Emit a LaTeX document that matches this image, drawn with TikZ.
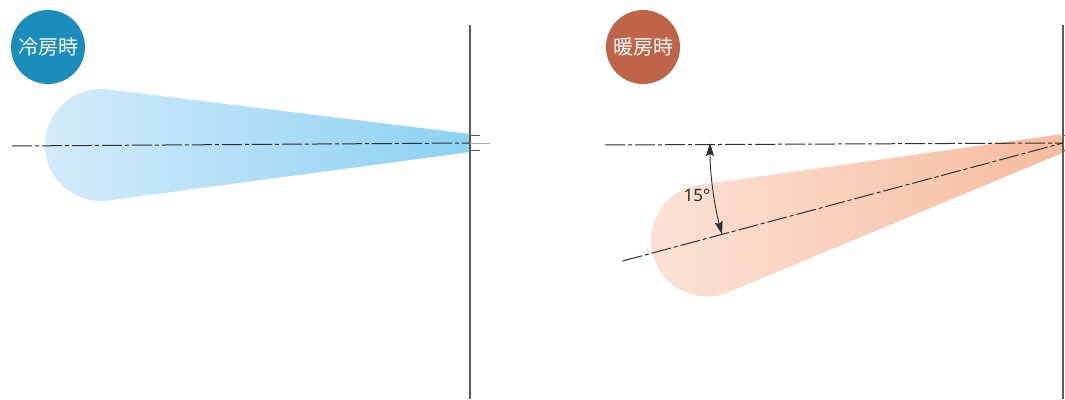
\documentclass[tikz,border=0pt]{standalone}
\usepackage{fontspec}
\setmainfont{Noto Sans}
\newfontfamily\jpfont{Noto Sans CJK JP}
\usetikzlibrary{arrows.meta,positioning,calc}
\definecolor{coolbadge}{HTML}{1B8DBB}
\definecolor{heatbadge}{HTML}{BF6448}
\definecolor{coolpale}{HTML}{D4EBFA}
\definecolor{coolfull}{HTML}{8CD1F3}
\definecolor{heatpale}{HTML}{FBE2D6}
\definecolor{heatfull}{HTML}{F6BB9D}
\definecolor{wallgrey}{HTML}{5A5A5A}
\definecolor{axisdark}{HTML}{2E2E2E}

% outline of one air stream, apex at the wall (470,143)
\newcommand{\streampath}{(470,134) -- (107.8,89.4)
  arc[start angle=-83, end angle=-277.6, radius=56] -- (470,152) -- cycle}

\begin{document}
\begin{tikzpicture}[x=1pt,y=-1pt,
  badge/.style={circle,minimum size=74pt,inner sep=0pt,text=white,
                font=\jpfont\fontsize{20}{20}\selectfont},
  wall/.style={draw=wallgrey,line width=1.1pt},
  tick/.style={draw=wallgrey,line width=0.9pt},
  axisline/.style={draw=axisdark,line width=1pt,
                   dash pattern=on 20pt off 3pt on 4pt off 3pt},
  arr/.style={{Stealth[length=13pt,width=8pt,inset=2pt]}-{Stealth[length=13pt,width=8pt,inset=2pt]},
              draw=axisdark,line width=0.9pt}
]
\useasboundingbox (0,0) rectangle (1065,399);

% cooling
\shade[left color=coolpale,right color=coolfull] \streampath;
\node[badge,fill=coolbadge] (cool) at (48,47) {冷房時};
\coordinate (cw1) at (470,25);
\coordinate (cw2) at (470,399);
\draw[wall] (cw1) -- (cw2);
\draw[tick] (470,135) -- (480,135);
\draw[tick] (470,150) -- (480,150);
\coordinate (ca) at (12,146);
\coordinate (cb) at (470,143);
\coordinate (cc) at (492,143);
\draw[axisline] (ca) -- (cb);
\draw[axisline,draw=gray!70] (cb) -- (cc);

% heating
\begin{scope}[shift={(593,0)},rotate around={15:(470,143)}]
  \shade[left color=heatpale,right color=heatfull] \streampath;
\end{scope}
\node[badge,fill=heatbadge] (heat) at (643,47) {暖房時};
\coordinate (hw1) at (1063,25);
\coordinate (hw2) at (1063,399);
\draw[wall] (hw1) -- (hw2);
\draw[tick] (1063,135) -- (1066,135);
\draw[tick] (1063,150) -- (1066,150);
\coordinate (apex) at (1063,143);
\coordinate (ha) at (605,145);
\coordinate (sl) at ($(apex)+(165:456)$);
\draw[axisline] (ha) -- (apex);
\draw[axisline] (sl) -- (apex);
\coordinate (hz) at (710,143);
\draw[arr] (hz) arc[start angle=180, end angle=165, radius=353];
\node[font=\fontsize{17}{17}\selectfont,text=axisdark] (ang) at (697,195) {15°};
\end{tikzpicture}
\end{document}
